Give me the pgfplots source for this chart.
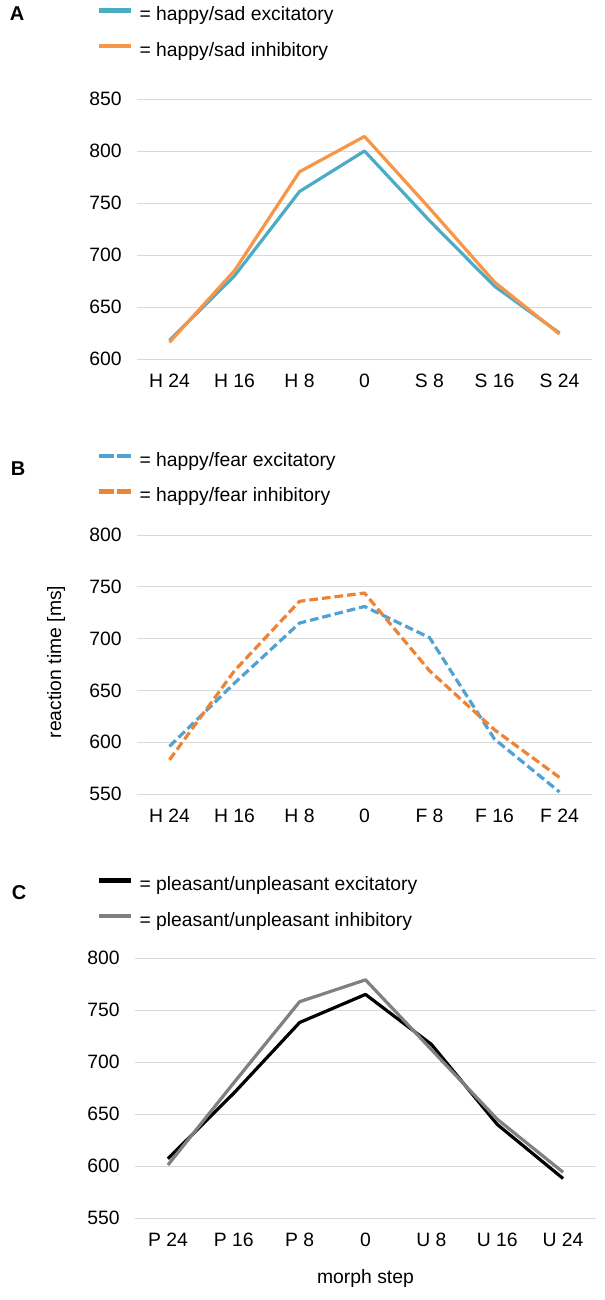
\documentclass[border=0pt]{standalone}
\usepackage{pgfplots}
\pgfplotsset{compat=1.18}
\usepackage{fontspec}
\setmainfont{Liberation Sans}
\definecolor{blueA}{HTML}{4BACC6}
\definecolor{orangeA}{HTML}{F79646}
\definecolor{blueB}{HTML}{4FA2D2}
\definecolor{orangeB}{HTML}{EE8336}
\definecolor{grayC}{HTML}{808080}
\definecolor{gridgray}{HTML}{D9D9D9}
\newcommand{\fs}{\fontsize{14.5}{17}\selectfont}
\pgfplotsset{
  myaxis/.style={
    scale only axis,
    axis line style={draw=none},
    major tick length=0pt,
    ymajorgrids,
    grid style={color=gridgray, line width=0.75pt},
    tick label style={font=\fs},
    /pgf/number format/assume math mode=true,
    yticklabel style={xshift=-8pt},
    xticklabel style={yshift=-8pt},
    xmin=-0.5, xmax=6.5,
    xtick={0,1,2,3,4,5,6},
    clip=false,
    legend cell align=left,
    legend style={draw=none, fill=none, font=\fs, anchor=west,
      inner sep=0pt, outer sep=0pt, row sep=14.5pt,
      nodes={inner sep=0pt},
      /tikz/every odd column/.append style={column sep=4.5pt}},
    legend image code/.code={\draw[#1, line width=3.4pt] (0pt,0.33em) -- (24pt,0.33em);},
    every axis plot/.append style={line width=2.4pt, line join=round},
  }
}
\begin{document}
\begin{tikzpicture}
\useasboundingbox (0pt,0pt) rectangle (453pt,-975pt);
% Panel A
\node[font=\fontsize{15}{17}\selectfont\bfseries] at (12.75pt,-10.5pt) {A};
\begin{axis}[myaxis,
  at={(102.75pt,-269.25pt)}, anchor=south west,
  width=341.25pt, height=195pt,
  ymin=600, ymax=850, ytick={600,650,700,750,800,850},
  xticklabels={H 24, H 16, H 8, 0, S 8, S 16, S 24},
  legend style={at={(axis description cs:-0.0879,1.2558)}},
]
\addplot[color=blueA] coordinates {(0,618) (1,680) (2,761) (3,800) (4,733) (5,670) (6,625)};
\addlegendentry{= happy/sad excitatory}
\addplot[color=orangeA] coordinates {(0,616) (1,685) (2,780) (3,814) (4,745) (5,674) (6,624)};
\addlegendentry{= happy/sad inhibitory}
\end{axis}
% Panel B
\node[font=\fontsize{15}{17}\selectfont\bfseries] at (13.5pt,-351.75pt) {B};
\begin{axis}[myaxis,
  at={(102.75pt,-595.5pt)}, anchor=south west,
  width=341.25pt, height=194.25pt,
  ymin=550, ymax=800, ytick={550,600,650,700,750,800},
  xticklabels={H 24, H 16, H 8, 0, F 8, F 16, F 24},
  ylabel={reaction time [ms]},
  ylabel style={font=\fs, at={(axis description cs:-0.178,0.5097)}, anchor=center},
  legend style={at={(axis description cs:-0.0879,1.2201)}},
  legend image code/.code={\draw[#1, line width=3.4pt, dash pattern=on 10.9pt off 2.2pt] (0pt,0.33em) -- (24pt,0.33em);},
]
\addplot[color=blueB, dash pattern=on 6.5pt off 3pt] coordinates {(0,596) (1,657) (2,715) (3,731) (4,701) (5,603) (6,552)};
\addlegendentry{= happy/fear excitatory}
\addplot[color=orangeB, dash pattern=on 6.5pt off 3pt] coordinates {(0,583) (1,669) (2,736) (3,744) (4,669) (5,612) (6,566)};
\addlegendentry{= happy/fear inhibitory}
\end{axis}
% Panel C
\node[font=\fontsize{15}{17}\selectfont\bfseries] at (14.25pt,-669.75pt) {C};
\begin{axis}[myaxis,
  at={(101.25pt,-913.5pt)}, anchor=south west,
  width=345.75pt, height=195pt,
  ymin=550, ymax=800, ytick={550,600,650,700,750,800},
  xticklabels={P 24, P 16, P 8, 0, U 8, U 16, U 24},
  xlabel={morph step},
  xlabel style={font=\fs, at={(axis description cs:0.5,-0.2308)}, anchor=center},
  legend style={at={(axis description cs:-0.0824,1.2135)}},
]
\addplot[color=black] coordinates {(0,607) (1,670) (2,738) (3,765) (4,717) (5,640) (6,588)};
\addlegendentry{= pleasant/unpleasant excitatory}
\addplot[color=grayC] coordinates {(0,601) (1,680) (2,758) (3,779) (4,712) (5,645) (6,594)};
\addlegendentry{= pleasant/unpleasant inhibitory}
\end{axis}
\end{tikzpicture}
\end{document}
